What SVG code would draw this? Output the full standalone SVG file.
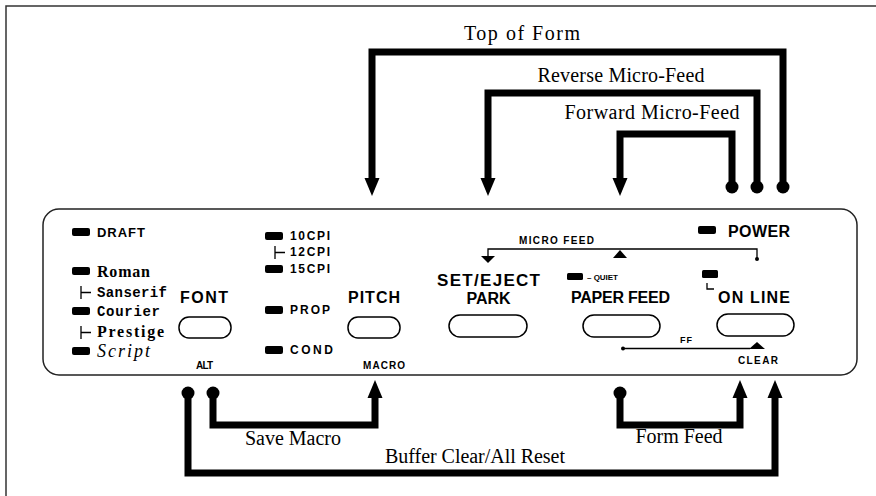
<svg xmlns="http://www.w3.org/2000/svg" width="876" height="496" viewBox="0 0 876 496">
<style>
.frame{fill:none;stroke:#333;stroke-width:1.5}
.panel{fill:none;stroke:#222;stroke-width:1.5}
.conn{fill:none;stroke:#000;stroke-width:7;stroke-linejoin:miter}
.thin{fill:none;stroke:#000;stroke-width:1.3}
.btn{fill:#fff;stroke:#000;stroke-width:1.5}
.led{fill:#000}
.ser{font-family:"Liberation Serif",serif;font-size:20px;fill:#000}
.lab{font-family:"Liberation Sans",Arial,sans-serif;font-weight:bold;fill:#000}
.mono{font-family:"Liberation Mono",monospace;font-weight:bold;font-size:14px;fill:#000}
</style>
<defs>
<marker id="ah" markerUnits="userSpaceOnUse" markerWidth="20" markerHeight="20" refX="0" refY="7.5" orient="auto" overflow="visible">
<path d="M0,0 L18,7.5 L0,15 Z" fill="#000"/>
</marker>
<marker id="dot" markerUnits="userSpaceOnUse" markerWidth="16" markerHeight="16" refX="8" refY="8" overflow="visible">
<circle cx="8" cy="8" r="6.5" fill="#000"/>
</marker>
</defs>
<rect width="876" height="496" fill="#fff"/>
<path class="frame" d="M6,496 V6 H876"/>
<rect class="panel" x="43" y="209" width="814" height="166" rx="16"/>

<g id="connectors">
<path class="conn" d="M783,187 V52 H372 V178" marker-start="url(#dot)" marker-end="url(#ah)"/>
<path class="conn" d="M757,187 V93 H488 V178" marker-start="url(#dot)" marker-end="url(#ah)"/>
<path class="conn" d="M732,187 V134 H620 V178" marker-start="url(#dot)" marker-end="url(#ah)"/>
<path class="conn" d="M213,393 V425 H375 V398" marker-start="url(#dot)" marker-end="url(#ah)"/>
<path class="conn" d="M188,393 V473 H775 V398" marker-start="url(#dot)" marker-end="url(#ah)"/>
<path class="conn" d="M620,393 V425 H740 V398" marker-start="url(#dot)" marker-end="url(#ah)"/>
<text class="ser" x="522" y="40" text-anchor="middle" font-size="22" textLength="116">Top of Form</text>
<text class="ser" x="621" y="82" text-anchor="middle" textLength="167">Reverse Micro-Feed</text>
<text class="ser" x="652" y="119" text-anchor="middle" textLength="175">Forward Micro-Feed</text>
<text class="ser" x="293" y="445" text-anchor="middle" font-size="19">Save Macro</text>
<text class="ser" x="475" y="463" text-anchor="middle" textLength="180">Buffer Clear/All Reset</text>
<text class="ser" x="679" y="443" text-anchor="middle" font-size="18">Form Feed</text>
</g>

<g id="font-group">
<rect class="led" x="72" y="228" width="18" height="8" rx="2"/>
<text class="lab" x="97" y="237" font-size="13" textLength="48">DRAFT</text>
<rect class="led" x="72" y="267" width="18" height="8" rx="2"/>
<text x="97" y="277" font-family="Liberation Serif,serif" font-weight="bold" font-size="16" textLength="53">Roman</text>
<path class="thin" d="M81,286 V299 M81,292.5 H91"/>
<text class="mono" x="97" y="297" textLength="70">Sanserif</text>
<rect class="led" x="72" y="307" width="18" height="8" rx="2"/>
<text class="mono" x="97" y="316" textLength="63">Courier</text>
<path class="thin" d="M81,326 V339 M81,332.5 H91"/>
<text x="97" y="337" font-family="Liberation Serif,serif" font-weight="bold" font-size="16" textLength="67">Prestige</text>
<rect class="led" x="72" y="347" width="18" height="8" rx="2"/>
<text x="97" y="357" font-family="Liberation Serif,serif" font-style="italic" font-size="18" textLength="53">Script</text>
</g>

<g id="font">
<text class="lab" x="204" y="303" font-size="16" text-anchor="middle" textLength="48">FONT</text>
<rect class="btn" x="179" y="317" width="52" height="21" rx="10"/>
<text class="lab" x="204.5" y="369" font-size="10" text-anchor="middle" textLength="17">ALT</text>
</g>

<g id="pitch-group">
<rect class="led" x="265" y="232" width="18" height="8" rx="2"/>
<text class="lab" x="290" y="240" font-size="12" textLength="40">10CPI</text>
<path class="thin" d="M275,246 V259 M275,252.5 H285"/>
<text class="lab" x="290" y="256" font-size="12" textLength="40">12CPI</text>
<rect class="led" x="265" y="265" width="18" height="8" rx="2"/>
<text class="lab" x="290" y="273" font-size="12" textLength="40">15CPI</text>
<rect class="led" x="265" y="306" width="18" height="8" rx="2"/>
<text class="lab" x="290" y="314" font-size="12" textLength="40">PROP</text>
<rect class="led" x="265" y="346" width="18" height="8" rx="2"/>
<text class="lab" x="290" y="354" font-size="12" textLength="43">COND</text>
</g>

<g id="pitch">
<text class="lab" x="374" y="303" font-size="16" text-anchor="middle" textLength="52">PITCH</text>
<rect class="btn" x="348" y="317" width="52" height="21" rx="10"/>
<text class="lab" x="384" y="369" font-size="10" text-anchor="middle" textLength="42">MACRO</text>
</g>

<g id="micro-feed">
<text class="lab" x="556.5" y="244" font-size="10" text-anchor="middle" textLength="75">MICRO FEED</text>
<path class="thin" d="M488,256 V249 H757 V259"/>
<circle cx="757" cy="259" r="2" fill="#000"/>
<path d="M481,256 H495 L488,263 Z" fill="#000"/>
<path d="M620,250 L627,258 H613 Z" fill="#000"/>
</g>

<g id="set-eject">
<text class="lab" x="488.5" y="286" font-size="17" text-anchor="middle" textLength="103">SET/EJECT</text>
<text class="lab" x="488.5" y="304" font-size="16" text-anchor="middle">PARK</text>
<rect class="btn" x="449" y="315" width="78" height="22" rx="11"/>
</g>

<g id="paper-feed">
<rect class="led" x="567" y="273" width="16" height="7" rx="1.5"/>
<text class="lab" x="587" y="280" font-size="8" textLength="31">– QUIET</text>
<text class="lab" x="620.5" y="303" font-size="16" text-anchor="middle" textLength="99">PAPER FEED</text>
<rect class="btn" x="583" y="315" width="77" height="22" rx="11"/>
<path class="thin" d="M623,348.5 H750"/>
<circle cx="623" cy="348.5" r="2" fill="#000"/>
<text class="lab" x="680" y="343" font-size="9" textLength="12">FF</text>
<path d="M757,342 L765,349 H749 Z" fill="#000"/>
<text class="lab" x="758" y="364" font-size="10" text-anchor="middle" textLength="40">CLEAR</text>
</g>

<g id="on-line">
<rect class="led" x="698" y="226" width="18" height="8" rx="2"/>
<text class="lab" x="728" y="237" font-size="16" textLength="62">POWER</text>
<rect class="led" x="702" y="270" width="16" height="8" rx="1.5"/>
<path class="thin" d="M707,283 V289 H714"/>
<text class="lab" x="718" y="303" font-size="16" textLength="72">ON LINE</text>
<rect class="btn" x="717" y="314" width="77" height="22" rx="11"/>
</g>
</svg>
